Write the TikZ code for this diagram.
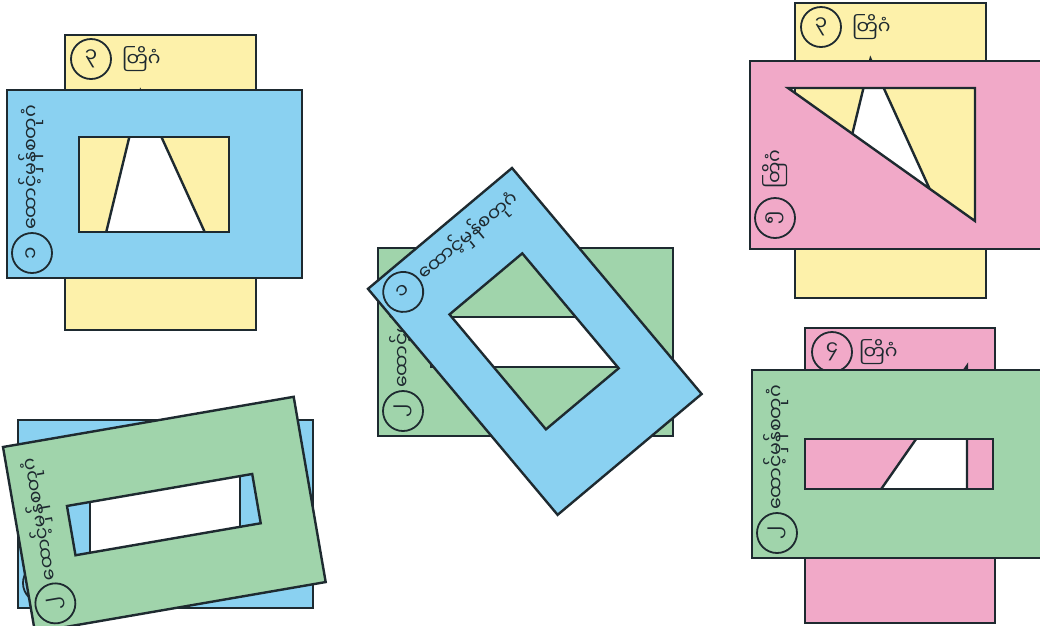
\documentclass[tikz,border=0pt]{standalone}
\usepackage{fontspec}
\newfontfamily\mya[Script=Myanmar]{Noto Sans Myanmar UI}
\definecolor{cyel}{HTML}{FDF1AA}
\definecolor{cblu}{HTML}{8AD1F1}
\definecolor{cgrn}{HTML}{A0D4AB}
\definecolor{cpnk}{HTML}{F1A9C8}
\definecolor{cink}{HTML}{1E2A30}
\tikzset{
  edge/.style={draw=cink, line width=2.4pt, line join=miter},
  numring/.style={circle, draw=cink, line width=1.8pt, minimum size=40pt, inner sep=0pt,
    font=\mya\fontsize{20}{20}\selectfont, text=cink},
  lbl/.style={font=\mya\fontsize{19}{19}\selectfont, text=cink, inner sep=0pt},
}
% card 3 (yellow, triangle)
\newcommand{\mycardthree}[1]{%
  \fill[cyel] (0,0) rectangle (191,295);
  \fill[white] (75.5,56) -- (157,235) -- (32,235) -- cycle;
  \draw[edge] (75.5,56) -- (157,235) -- (32,235) -- cycle;
  \draw[edge] (0,0) rectangle (191,295);
  \node[numring] (#1n) at (26,24) {၃};
  \node[lbl, anchor=west] (#1t) at (57,24) {တြိဂံ};
}
% card 4 (pink, right triangle)
\newcommand{\mycardfour}[1]{%
  \fill[cpnk] (0,0) rectangle (190,295);
  \fill[white] (162,38) -- (162,200) -- (49,200) -- cycle;
  \draw[edge] (162,38) -- (162,200) -- (49,200) -- cycle;
  \draw[edge] (0,0) rectangle (190,295);
  \node[numring] (#1n) at (27,24) {၄};
  \node[lbl, anchor=west] (#1t) at (54,24) {တြိဂံ};
}
% rectangular frame without label text: #1 prefix, #2 colour, #3-#6 hole, #7 digit
\newcommand{\myrectframebare}[7]{%
  \fill[#2, even odd rule] (0,0) rectangle (295,188) (#3,#4) rectangle (#5,#6);
  \draw[edge] (0,0) rectangle (295,188);
  \draw[edge] (#3,#4) rectangle (#5,#6);
  \node[numring, rotate=90] (#1n) at (25,163) {#7};
}
% rectangular frame with label text
\newcommand{\myrectframe}[7]{%
  \myrectframebare{#1}{#2}{#3}{#4}{#5}{#6}{#7}
  \node[lbl, rotate=90, anchor=west] (#1t) at (24,140) {ထောင့်မှန်စတုဂံ};
}
% triangular frame 5 (pink)
\newcommand{\mytriframe}[1]{%
  \fill[cpnk, even odd rule] (0,0) rectangle (300,188) (38,27) -- (225,27) -- (225,160) -- cycle;
  \draw[edge] (0,0) rectangle (300,188);
  \draw[edge] (38,27) -- (225,27) -- (225,160) -- cycle;
  \node[numring, rotate=90] (#1n) at (25,157) {၅};
  \node[lbl, rotate=90] (#1t) at (25,108) {တြိဂံ};
}
\begin{document}
\begin{tikzpicture}[x=1pt, y=-1pt]
\useasboundingbox (0,0) rectangle (1040,625);
\clip (0,0) rectangle (1040,625);
\fill[white] (0,0) rectangle (1040,625);

% panel 1 (top left)
\begin{scope}[shift={(65,35)}]\mycardthree{ya}\end{scope}
\begin{scope}[shift={(7,90)}]\myrectframe{ba}{cblu}{72}{47}{222}{142}{၁}\end{scope}

% panel 2 (top right)
\begin{scope}[shift={(795,3)}]\mycardthree{yb}\end{scope}
\begin{scope}[shift={(750,61)}]\mytriframe{pa}\end{scope}

% panel 3 (bottom right)
\begin{scope}[shift={(805,328)}]\mycardfour{pc}\end{scope}
\begin{scope}[shift={(752,370)}]\myrectframe{ga}{cgrn}{53}{69}{241}{119}{၂}\end{scope}

% panel 4 (bottom left)
\begin{scope}[shift={(18,420)}]\myrectframebare{bb}{cblu}{72}{47}{222}{142}{၁}\end{scope}
\begin{scope}[shift={(3,447)}, rotate=9.8, transform shape]\myrectframe{gb}{cgrn}{53}{69}{241}{119}{၂}\end{scope}

% panel 5 (middle)
\begin{scope}[shift={(378,248)}]\myrectframe{gc}{cgrn}{53}{69}{241}{119}{၂}\end{scope}
\begin{scope}[shift={(512,168)}, rotate=-50, transform shape]\myrectframe{bc}{cblu}{72}{47}{222}{142}{၁}\end{scope}
\end{tikzpicture}
\end{document}
